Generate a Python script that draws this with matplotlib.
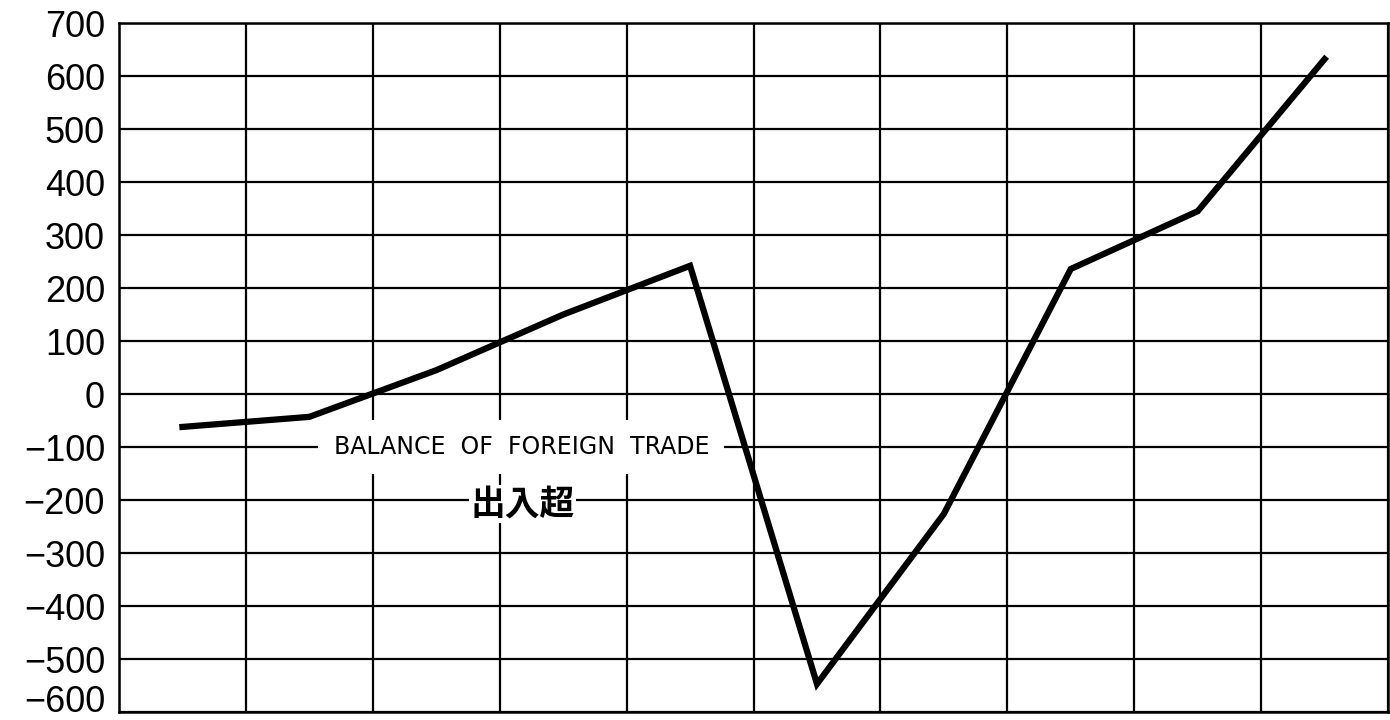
import matplotlib
matplotlib.use("Agg")
import matplotlib.pyplot as plt
import matplotlib.transforms as mtransforms

# balance of foreign trade, one value per column
periods = list(range(10))
balance = [-62, -43, 45, 150, 242, -547, -226, 236, 345, 632]

y_ticks = list(range(-600, 701, 100))
y_labels = [str(v) if v >= 0 else "\u2212" + str(-v) for v in y_ticks]

title_en = "BALANCE  OF  FOREIGN  TRADE"
title_jp = "出入超"

plt.rcParams['font.family'] = ['Liberation Sans', 'DejaVu Sans']

fig = plt.figure(figsize=(13.9, 7.2), dpi=100)
ax = fig.add_axes([0.0856, 0.011, 0.913, 0.957])

# line through the middle of each column
xs = [p + 0.5 for p in periods]
ax.plot(xs, balance, color="black", lw=4.5, solid_joinstyle="miter", zorder=5)

ax.set_xlim(0, 10)
ax.set_ylim(-600, 700)
ax.set_xticks(range(0, 11))
ax.set_xticklabels([])
ax.set_yticks(y_ticks)
ax.set_yticklabels(y_labels, fontsize=26)
ax.tick_params(axis="both", length=0, pad=10)
ax.grid(True, color="black", lw=1.6, zorder=1)
ax.set_axisbelow(True)
for s in ax.spines.values():
    s.set_linewidth(1.8)

# bottom label sits a bit higher so it stays inside the picture
lowest = ax.get_yticklabels()[0]
lowest.set_transform(lowest.get_transform() +
                     mtransforms.ScaledTranslation(0, 10 / 72, fig.dpi_scale_trans))

# labels sit on the grid lines with a white box behind them
ax.text(3.17, -100, title_en, fontsize=17, family="DejaVu Sans",
        ha="center", va="center", zorder=3,
        bbox=dict(facecolor="white", edgecolor="none", pad=11))
ax.text(3.18, -207, title_jp, fontsize=25, fontweight="bold",
        family=["Noto Sans CJK JP", "DejaVu Sans"], ha="center", va="center",
        zorder=3, bbox=dict(facecolor="white", edgecolor="none", pad=1))

fig.savefig("out.png", dpi=100)
